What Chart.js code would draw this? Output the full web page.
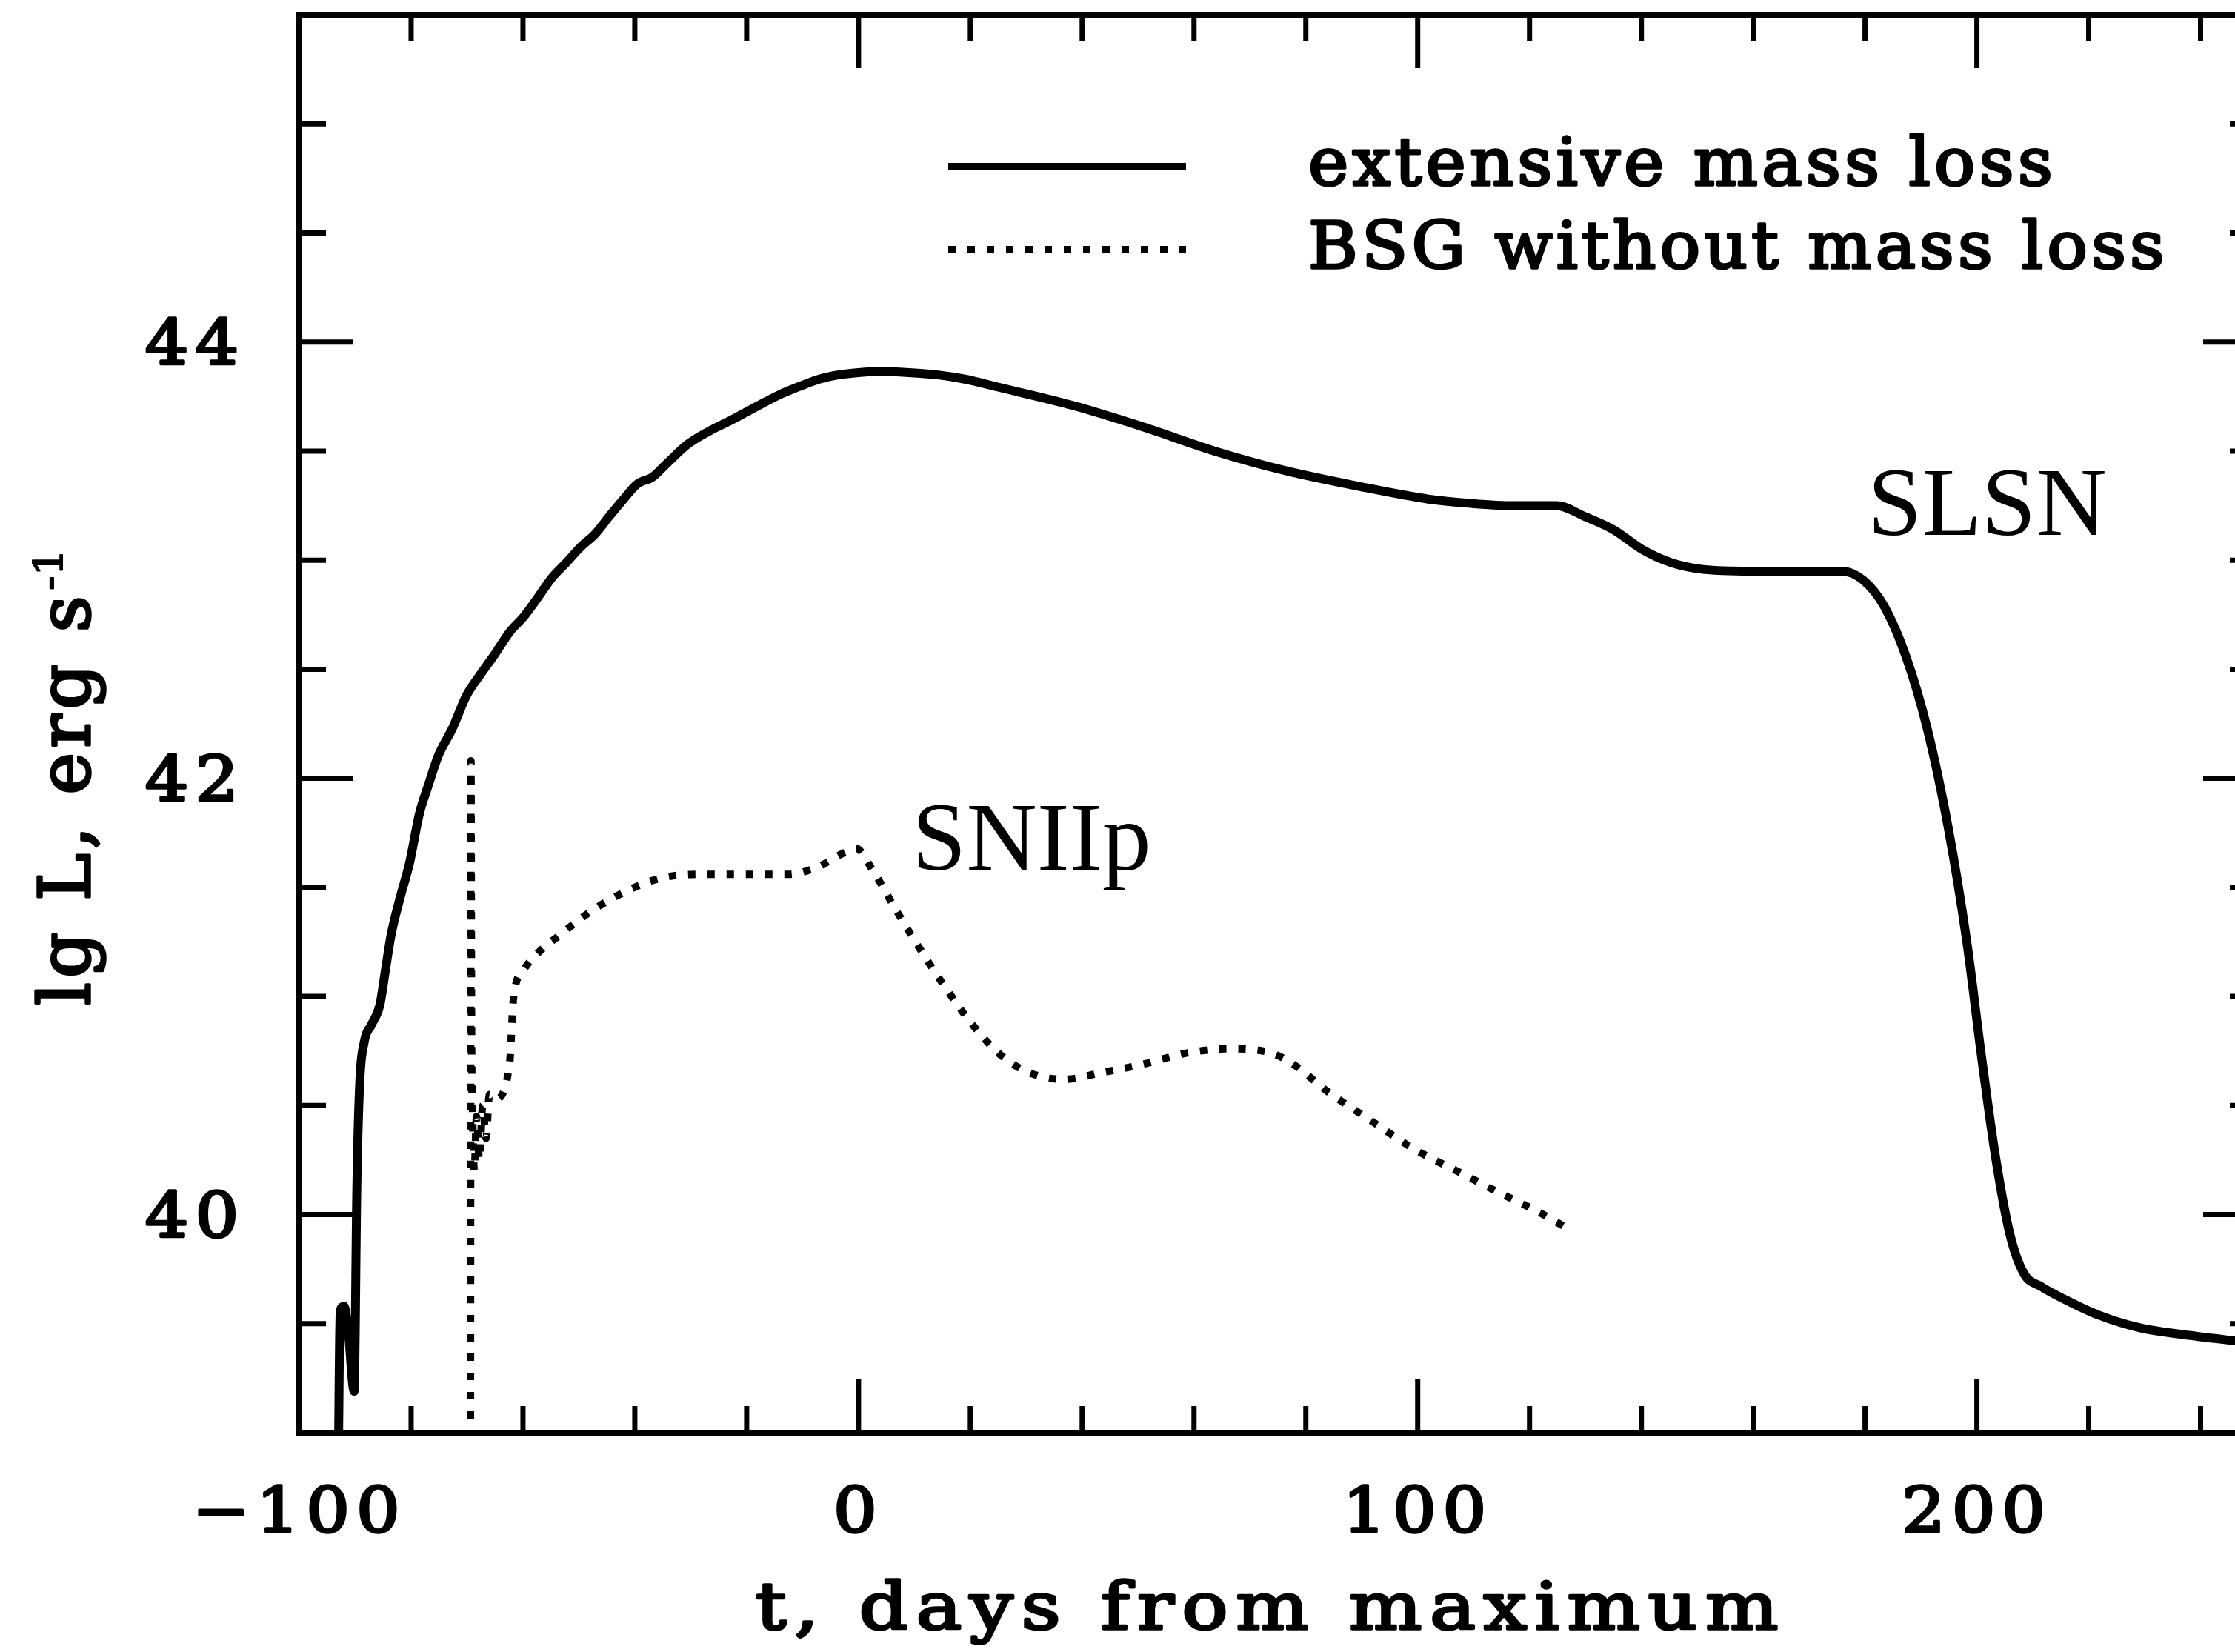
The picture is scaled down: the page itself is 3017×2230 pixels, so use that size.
<!DOCTYPE html>
<html lang="en">

<head>
    <meta charset="UTF-8">
    <script src="https://cdn.jsdelivr.net/npm/chart.js"></script>
    <title>SLSN vs SNIIp light curves</title>
    <style>
        html, body { margin: 0; padding: 0; background: #fff; overflow: hidden; }
        #wrap { width: 3060px; height: 2230px; }
    </style>
</head>

<body>
    <div id="wrap"><canvas id="lc" width="3060" height="2230"></canvas></div>

    <script>
        // extensive mass loss model (SLSN) - days from maximum / lg L
        const slsnDays = [-93.0, -92.7, -92.0, -91.2, -90.2, -89.7, -89.2, -88.4, -87.1, -85.6, -84.6, -83.6, -82.0,
            -80.3, -78.5, -76.9, -75.2, -72.6, -70.1, -67.5, -65.0, -62.4, -59.9, -57.3, -54.8, -52.2, -49.7, -47.1,
            -44.6, -42.0, -39.5, -36.9, -34.4, -30.6, -26.8, -22.9, -17.8, -14.0, -10.2, -7.0, -3.5, 0, 4.0, 9.0, 14.0, 19.0, 25.5,
            38.2, 51.0, 63.7, 76.4, 89.2, 101.9, 109.6, 117.2, 124.8, 129.9, 135.0, 140.1, 145.2, 150.3, 158.0, 168.2,
            175.8, 179.6, 183.4, 187.3, 191.1, 194.9, 198.2, 200.8, 203.3, 205.9, 208.4, 211.5, 216.6, 221.7, 229.3,
            236.9, 246.6, 250];
        const slsnLum = [38.9, 39.56, 39.58, 39.45, 39.19, 40.14, 40.60, 40.79, 40.87, 40.96, 41.12, 41.28, 41.45,
            41.61, 41.84, 41.97, 42.10, 42.23, 42.38, 42.48, 42.57, 42.67, 42.74, 42.83, 42.92, 42.99, 43.06, 43.12,
            43.20, 43.28, 43.35, 43.38, 43.44, 43.53, 43.59, 43.64, 43.71, 43.76, 43.80, 43.83, 43.85, 43.86, 43.865, 43.86, 43.85, 43.83, 43.79,
            43.71, 43.61, 43.50, 43.41, 43.34, 43.28, 43.26, 43.25, 43.25, 43.20, 43.14, 43.05, 42.99, 42.96, 42.95, 42.95,
            42.95, 42.91, 42.79, 42.56, 42.23, 41.77, 41.25, 40.73, 40.27, 39.91, 39.73, 39.67, 39.60, 39.54, 39.48,
            39.45, 39.42, 39.41];

        // BSG without mass loss (SNIIp)
        const bsgDays = [-69.4, -69.3, -69.2, -69.0, -68.7, -68.3, -67.8, -67.2, -66.6, -66.0, -65.0, -62.4, -61.7,
            -59.9, -57.3, -53.5, -48.4, -43.3, -35.7, -28.0, -20.4, -12.7, -7.6, -2.5, -0.5, 2.5, 6.4, 10.2, 15.3,
            20.4, 25.5, 30.6, 36.9, 43.3, 51.0, 58.6, 66.2, 73.9, 77.7, 84.1, 91.7, 99.4, 107.0, 114.6, 121.0, 126.6];
        const bsgLum = [38.8, 42.08, 40.9, 40.45, 40.2, 40.45, 40.25, 40.5, 40.35, 40.55, 40.53, 40.69, 40.99,
            41.12, 41.20, 41.28, 41.38, 41.46, 41.54, 41.56, 41.56, 41.56, 41.59, 41.66, 41.68, 41.58, 41.41, 41.25, 41.05,
            40.87, 40.73, 40.65, 40.62, 40.65, 40.69, 40.74, 40.76, 40.74, 40.69, 40.56, 40.43, 40.30, 40.20, 40.10, 40.02, 39.94];

        // labelled ticks
        const dayLabels = [-100, 0, 100, 200];
        const lumLabels = [40, 42, 44];
        const seriesNames = ['extensive mass loss', 'BSG without mass loss'];

        const toPoints = (xs, ys) => xs.map((x, i) => ({ x: x, y: ys[i] }));

        const FONT = '"DejaVu Serif"';

        // draws text squeezed/stretched horizontally (k) or fitted to a target width
        function putText(ctx, str, x, y, size, opts) {
            ctx.save();
            ctx.font = size + 'px ' + FONT;
            ctx.letterSpacing = Math.round(size * (opts.spacing || 0)) + 'px';
            const w = ctx.measureText(str).width;
            const k = opts.width ? opts.width / w : (opts.k || 1);
            let x0 = x;
            if (opts.align === 'center') x0 = x - w * k / 2;
            if (opts.align === 'right') x0 = x - w * k;
            ctx.translate(x0, y);
            ctx.scale(k, 1);
            ctx.textAlign = 'left';
            ctx.textBaseline = 'alphabetic';
            ctx.lineWidth = opts.stroke || 3.5;
            ctx.lineJoin = 'round';
            ctx.fillText(str, 0, 0);
            ctx.strokeText(str, 0, 0);
            ctx.restore();
        }

        // box, inward ticks, tick labels, titles, legend, curve names
        const framePlugin = {
            id: 'frame',
            afterDraw(chart) {
                const ctx = chart.ctx;
                const a = chart.chartArea;
                const sx = chart.scales.x;
                const sy = chart.scales.y;
                ctx.save();
                ctx.strokeStyle = '#000';
                ctx.fillStyle = '#000';
                ctx.lineWidth = 8;
                ctx.strokeRect(a.left, a.top, a.right - a.left, a.bottom - a.top);

                const seg = (x1, y1, x2, y2) => {
                    ctx.beginPath();
                    ctx.moveTo(x1, y1);
                    ctx.lineTo(x2, y2);
                    ctx.stroke();
                };
                ctx.lineWidth = 7;
                sx.ticks.forEach(t => {
                    if (t.value % 20 !== 0) return;
                    const px = sx.getPixelForValue(t.value);
                    const major = dayLabels.includes(t.value);
                    const len = major ? 72 : 36;
                    seg(px, a.bottom, px, a.bottom - len);
                    seg(px, a.top, px, a.top + len);
                    if (major) {
                        const txt = String(t.value).replace('-', '\u2212');
                        putText(ctx, txt, px, a.bottom + 134, 84, { k: 1.1, spacing: 0.1, align: 'center' });
                    }
                });
                sy.ticks.forEach(t => {
                    const py = sy.getPixelForValue(t.value);
                    const major = lumLabels.includes(t.value);
                    const len = major ? 72 : 36;
                    seg(a.left, py, a.left + len, py);
                    seg(a.right, py, a.right - len, py);
                    if (major) {
                        putText(ctx, String(t.value), a.left - 73, py + 30, 84, { k: 1.1, spacing: 0.1, align: 'right' });
                    }
                });

                // x title
                putText(ctx, 't, days from maximum', 1020, 2199, 88, { width: 1391, spacing: 0.1 });

                // y title, rotated, with superscript
                ctx.save();
                ctx.translate(121, 1357);
                ctx.rotate(-Math.PI / 2);
                putText(ctx, 'lg L, erg s', 0, 0, 96, { width: 559, spacing: 0.06 });
                putText(ctx, '-1', 560, -36, 54, { width: 56, stroke: 2 });
                ctx.restore();

                // legend
                ctx.lineWidth = 10;
                seg(1280, 225, 1601, 225);
                ctx.setLineDash([10, 16]);
                seg(1280, 337, 1601, 337);
                ctx.setLineDash([]);
                putText(ctx, seriesNames[0], 1766, 250, 90, { width: 1010, spacing: 0.06 });
                putText(ctx, seriesNames[1], 1766, 362, 88, { width: 1161, spacing: 0.06 });

                // curve names
                ctx.font = '132px "Liberation Serif"';
                ctx.textAlign = 'left';
                ctx.textBaseline = 'alphabetic';
                ctx.fillText('SLSN', 2521, 722);
                ctx.fillText('SNIIp', 1231, 1174);

                ctx.restore();
            }
        };

        const noPad = (scale) => {
            scale.paddingLeft = 0;
            scale.paddingRight = 0;
            scale.paddingTop = 0;
            scale.paddingBottom = 0;
        };

        const ctx = document.getElementById('lc').getContext('2d');
        new Chart(ctx, {
            type: 'line',
            data: {
                datasets: [{
                    label: seriesNames[0],
                    data: toPoints(slsnDays, slsnLum),
                    borderColor: '#000',
                    borderWidth: 12,
                    borderJoinStyle: 'round',
                    cubicInterpolationMode: 'monotone',
                    pointRadius: 0,
                    fill: false
                }, {
                    label: seriesNames[1],
                    data: toPoints(bsgDays, bsgLum),
                    borderColor: '#000',
                    borderWidth: 10,
                    borderDash: [10, 16],
                    borderCapStyle: 'butt',
                    cubicInterpolationMode: 'monotone',
                    pointRadius: 0,
                    fill: false
                }]
            },
            options: {
                responsive: false,
                animation: false,
                devicePixelRatio: 1,
                layout: {
                    padding: { left: 404, top: 20, right: 14, bottom: 296 }
                },
                plugins: {
                    legend: { display: false },
                    tooltip: { enabled: false }
                },
                scales: {
                    x: {
                        type: 'linear',
                        min: -100,
                        max: 250,
                        grid: { display: false, drawTicks: false },
                        border: { display: false },
                        ticks: { display: false, stepSize: 20, autoSkip: false },
                        afterFit: (scale) => { scale.height = 0; noPad(scale); }
                    },
                    y: {
                        type: 'linear',
                        min: 39,
                        max: 45.5,
                        grid: { display: false, drawTicks: false },
                        border: { display: false },
                        ticks: { display: false, stepSize: 0.5, autoSkip: false },
                        afterFit: (scale) => { scale.width = 0; noPad(scale); }
                    }
                }
            },
            plugins: [framePlugin]
        });
    </script>
</body>

</html>
